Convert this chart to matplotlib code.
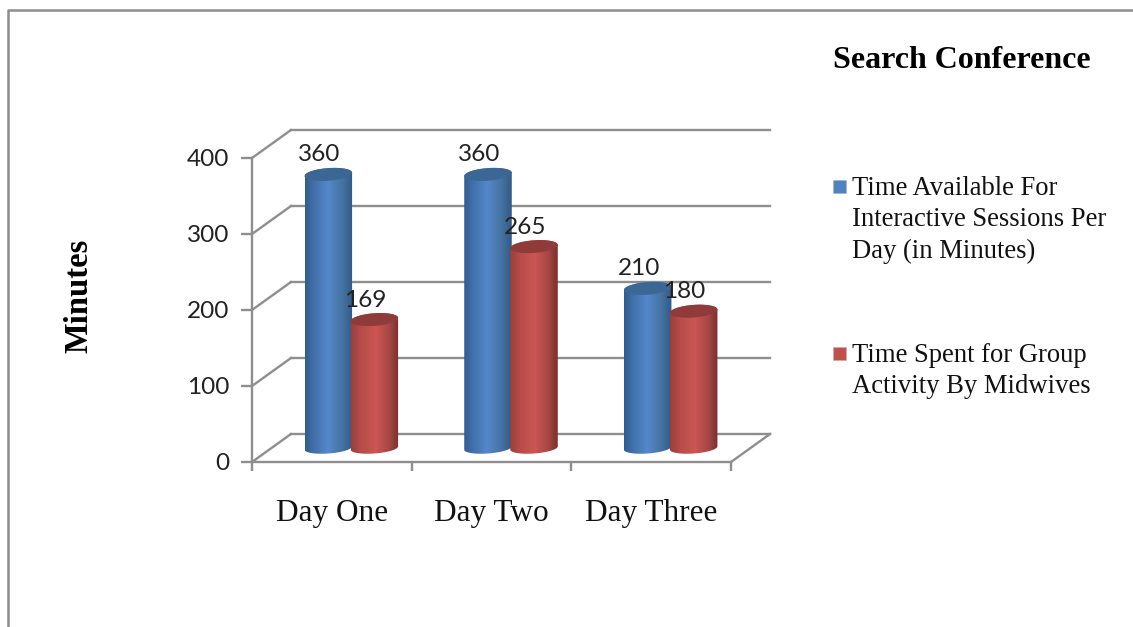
import numpy as np
import matplotlib
matplotlib.use("Agg")
import matplotlib.pyplot as plt
from matplotlib.colors import LinearSegmentedColormap
from matplotlib.lines import Line2D
from matplotlib.patches import PathPatch, Polygon, Rectangle
from matplotlib.path import Path

# Chart data
days = ["Day One", "Day Two", "Day Three"]
available = [360, 360, 210]
group_activity = [169, 265, 180]
series_names = ["Time Available For\nInteractive Sessions Per\nDay (in Minutes)",
                "Time Spent for Group\nActivity By Midwives"]
y_ticks = [0, 100, 200, 300, 400]

W, H = 1133, 627
GRID = "#8e8e8e"
SERIF = "Liberation Serif"
NUM = "Lato"

fig = plt.figure(figsize=(W / 100, H / 100), dpi=100, facecolor="white")
ax = fig.add_axes([252 / W, 1 - 462 / H, (731 - 252) / W, (462 - 158) / H])
ax.set_facecolor("none")
ax.set_xlim(0, 3)
ax.set_ylim(0, 400)

# Chart-area frame: only the top and left edges are in view
fig.add_artist(Line2D([8 / W, 8 / W, 1], [0, 1 - 10 / H, 1 - 10 / H],
                      transform=fig.transFigure, color="#8c8c8c", lw=1.8))

# Pseudo-3D walls: depth offset of the back plane, in data units
px_per_cat = (731 - 252) / 3
px_per_min = 304 / 400
depth_x = 39 / px_per_cat
depth_y = 28 / px_per_min
LINE_W = 1.7
for v in y_ticks:
    ax.plot([0, depth_x], [v, v + depth_y], color=GRID, lw=LINE_W, clip_on=False, zorder=1)
    ax.plot([depth_x, 3 + depth_x], [v + depth_y, v + depth_y], color=GRID, lw=LINE_W,
            clip_on=False, zorder=1)
ax.plot([3, 3 + depth_x], [0, depth_y], color=GRID, lw=LINE_W, clip_on=False, zorder=1)

for name in ("top", "right"):
    ax.spines[name].set_visible(False)
for name in ("left", "bottom"):
    ax.spines[name].set_color(GRID)
    ax.spines[name].set_linewidth(LINE_W)
ax.set_yticks(y_ticks)
ax.set_xticks([0, 1, 2, 3])
ax.set_xticklabels([])
ax.set_xticks([0.5, 1.5, 2.5], minor=True)
ax.set_xticklabels(days, minor=True, fontfamily=SERIF, fontsize=22.5, color="#111111")
ax.tick_params(axis="x", which="minor", length=0, pad=26.5)
ax.tick_params(axis="x", which="major", length=6.5, width=LINE_W, color=GRID)
ax.tick_params(axis="y", length=8, width=LINE_W, color=GRID, pad=8.5, labelsize=17.6, labelcolor="#222222")
for lab in ax.get_yticklabels():
    lab.set_fontfamily(NUM)

# Cylinders
bar_w = 47.5 / px_per_cat
step = 46 / px_per_cat
rx = bar_w / 2
ry_top = 6.3 / px_per_min
ry_base = 5.5 / px_per_min
tilt = 0.07 * px_per_cat / px_per_min

blue_map = LinearSegmentedColormap.from_list(
    "blue_cyl", [(0, "#2f5d92"), (0.18, "#4170a8"), (0.48, "#5588cc"), (0.8, "#44719f"), (1, "#315a85")])
red_map = LinearSegmentedColormap.from_list(
    "red_cyl", [(0, "#9a3f3d"), (0.2, "#b64c49"), (0.52, "#cc5653"), (0.8, "#a64744"), (1, "#79302e")])
ramp = np.linspace(0, 1, 128)[None, :]


def draw_cylinder(cx, value, cmap, cap_color, z):
    base = depth_y / 2
    top = base + value
    t = np.linspace(0, np.pi, 60)
    dx = rx * np.cos(t)
    # lower arc of the base, then the far edge, then the upper arc of the cap
    low_x = cx - dx
    low_y = base + ry_base * -np.sin(t) + tilt * (-dx)
    up_x = cx + dx
    up_y = top + ry_top * np.sin(t) + tilt * dx
    verts = np.column_stack([np.r_[low_x, up_x], np.r_[low_y, up_y]])
    body = PathPatch(Path(np.r_[verts, verts[:1]], closed=True), transform=ax.transData,
                     fc="none", ec="none")
    ax.add_patch(body)
    im = ax.imshow(ramp, cmap=cmap, aspect="auto", zorder=z,
                   extent=[cx - rx, cx + rx, base - 20, top + 20])
    im.set_clip_box(None)
    im.set_clip_path(body)
    # the visible cap is a full ellipse in a darker shade
    t2 = np.linspace(0, 2 * np.pi, 120)
    cap_dx = rx * np.cos(t2)
    cap = Polygon(np.column_stack([cx + cap_dx, top + ry_top * np.sin(t2) + tilt * cap_dx]),
                  closed=True, fc=cap_color, ec="none", zorder=z + 0.1, clip_on=False)
    ax.add_patch(cap)


label_font = dict(ha="center", va="center", fontfamily=NUM, fontsize=17.6, color="#222222", zorder=10)
for i in range(len(days)):
    centre = i + 0.5 + depth_x / 2
    bx = centre - step / 2
    red_x = centre + step / 2
    draw_cylinder(bx, available[i], blue_map, "#3b6795", 3)
    draw_cylinder(red_x, group_activity[i], red_map, "#8f3b39", 4)
    lift = depth_y / 2 + 19.5 / px_per_min
    shift = 9 / px_per_cat
    ax.text(bx - shift, available[i] + lift, str(available[i]), **label_font)
    ax.text(red_x - shift, group_activity[i] + lift, str(group_activity[i]), **label_font)

ax.set_xlim(0, 3)
ax.set_ylim(0, 400)

# Titles
fig.text(962 / W, 1 - 60 / H, "Search Conference", ha="center", va="center",
         fontfamily=SERIF, fontweight="bold", fontsize=23, color="#000000")
fig.text(79 / W, 1 - 296 / H, "Minutes", ha="center", va="center", rotation=90,
         fontfamily=SERIF, fontweight="bold", fontsize=23.5, color="#000000")

# Legend: swatch sits beside the first line of each entry
swatch_colors = ["#4f81bd", "#c0504d"]
swatch_edges = ["#9db8d8", "#dfa5a3"]
first_line_y = [186, 353]
for name, colour, edge, y in zip(series_names, swatch_colors, swatch_edges, first_line_y):
    fig.add_artist(Rectangle((833 / W, 1 - (y + 7) / H), 13 / W, 13 / H, transform=fig.transFigure,
                             fc=colour, ec=edge, lw=0.5))
    fig.text(852 / W, 1 - (y - 10) / H, name, ha="left", va="top", fontfamily=SERIF,
             fontsize=19.2, linespacing=1.33, color="#111111")

fig.savefig("out.png", dpi=100, facecolor="white")
